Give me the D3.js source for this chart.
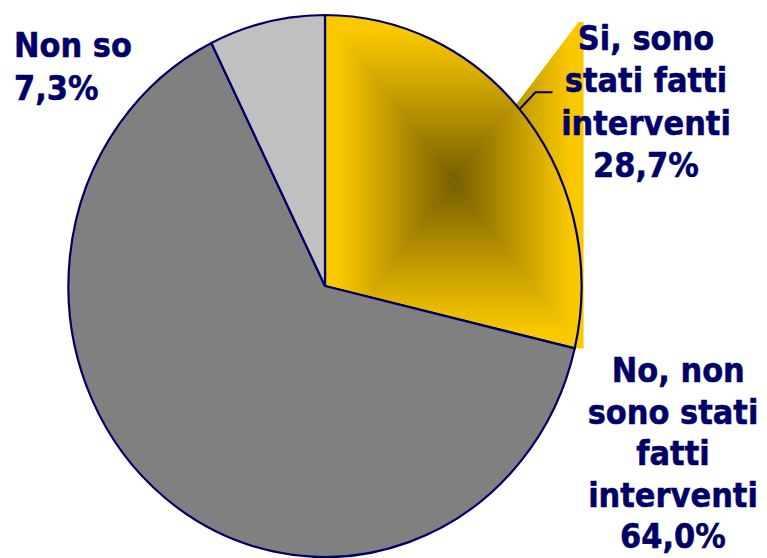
<!DOCTYPE html>
<html><head><meta charset="utf-8">
<script src="https://cdn.jsdelivr.net/npm/d3@7"></script>
<style>
html,body{margin:0;padding:0;background:#fff;}
svg{display:block;}
</style></head>
<body>
<script>
// ---- data ----
const categories = ["Si, sono stati fatti interventi", "No, non sono stati fatti interventi", "Non so"];
const values = [28.7, 64.0, 7.3];
const labelLines = [
  ["Si, sono", "stati fatti", "interventi", "28,7%"],
  [" No, non", "sono stati", "fatti", "interventi", "64,0%"],
  ["Non so", "7,3%"]
];
const colors = ["#f9c800", "#808080", "#c0c0c0"];

const W = 767, H = 558;
const cx = 325, cy = 286, rx = 256.6, ry = 271;
const ink = "#000066";

const svg = d3.select("body").append("svg").attr("width", W).attr("height", H);
const defs = svg.append("defs");

const pie = d3.pie().sort(null).startAngle(0).endAngle(2 * Math.PI);
const arcs = pie(values);
const arc = d3.arc().innerRadius(0).outerRadius(rx);
const sy = ry / rx;
const pieTransform = `translate(${cx},${cy}) scale(1,${sy})`;

// point on ellipse for a pie angle
const pt = a => [cx + rx * Math.sin(a), cy - ry * Math.cos(a)];

// --- yellow slice bbox for rectangular "from centre" gradient ---
const ys = arcs[0];
let xs = [cx], yv = [cy];
for (let i = 0; i <= 200; i++) {
  const a = ys.startAngle + (ys.endAngle - ys.startAngle) * i / 200;
  const p = pt(a); xs.push(p[0]); yv.push(p[1]);
}
const x0 = d3.min(xs), x1 = d3.max(xs) + 2, y0 = d3.min(yv), y1 = d3.max(yv);
const gcx = (x0 + x1) / 2, gcy = (y0 + y1) / 2;
const dark = "#765e00", light = colors[0];

// clip: slice plus the fill spill seen at the upper right
const clip = defs.append("clipPath").attr("id", "yclip");
clip.append("path").attr("d", arc(ys)).attr("transform", pieTransform);
const spillTop = pt(ys.startAngle + (ys.endAngle - ys.startAngle) * 0.465);
clip.append("polygon").attr("points", [
  [spillTop[0], spillTop[1]],
  [x1 - 5, y0 + 7],
  [x1, y0 + 7],
  [x1, y1],
  [x0 + (x1 - x0) * 0.97, y1]
].map(p => p.join(",")).join(" "));

function lg(id, ax, ay, bx, by) {
  const g = defs.append("linearGradient").attr("id", id)
    .attr("gradientUnits", "userSpaceOnUse")
    .attr("x1", ax).attr("y1", ay).attr("x2", bx).attr("y2", by);
  g.append("stop").attr("offset", 0).attr("stop-color", dark);
  g.append("stop").attr("offset", 0.5).attr("stop-color", "#c29b00");
  g.append("stop").attr("offset", 0.75).attr("stop-color", "#e6b800");
  g.append("stop").attr("offset", 0.9).attr("stop-color", light);
  g.append("stop").attr("offset", 1).attr("stop-color", light);
}
lg("gT", gcx, gcy, gcx, y0);
lg("gB", gcx, gcy, gcx, y1);
lg("gL", gcx, gcy, x0, gcy);
lg("gR", gcx, gcy, x1, gcy);

const gy = svg.append("g").attr("clip-path", "url(#yclip)");
const tri = (pts, f) => gy.append("polygon")
  .attr("points", pts.map(p => p.join(",")).join(" ")).attr("fill", f)
  .attr("stroke", f).attr("stroke-width", 0.6);
tri([[x0, y0], [x1, y0], [gcx, gcy]], "url(#gT)");
tri([[x0, y1], [x1, y1], [gcx, gcy]], "url(#gB)");
tri([[x0, y0], [x0, y1], [gcx, gcy]], "url(#gL)");
tri([[x1, y0], [x1, y1], [gcx, gcy]], "url(#gR)");

// --- pie slices ---
const g = svg.append("g").attr("transform", pieTransform);
g.selectAll("path.slice").data(arcs).join("path")
  .attr("class", "slice")
  .attr("d", arc)
  .attr("fill", (d, i) => i === 0 ? "none" : colors[i])
  .attr("stroke", ink)
  .attr("stroke-width", 2.2)
  .attr("stroke-linejoin", "round")
  .attr("vector-effect", "non-scaling-stroke");

// --- leader line for first label ---
const lp = pt(ys.startAngle + (ys.endAngle - ys.startAngle) * 0.477);
svg.append("polyline")
  .attr("points", [[lp[0], lp[1]], [lp[0] + 16, lp[1] - 17], [lp[0] + 33, lp[1] - 17]].map(p => p.join(",")).join(" "))
  .attr("fill", "none").attr("stroke", ink).attr("stroke-width", 2);

// --- labels ---
const labelPos = [
  { x: 646, y: 50, anchor: "middle", step: 42.3 },
  { x: 673, y: 382, anchor: "middle", step: 41.6 },
  { x: 14, y: 57, anchor: "start", step: 43 }
];
labelLines.forEach((lines, k) => {
  const p = labelPos[k];
  lines.forEach((t, j) => {
    svg.append("text")
      .attr("transform", `translate(${p.x},${p.y + j * p.step}) scale(1,1.1)`)
      .attr("text-anchor", p.anchor)
      .attr("font-family", "DejaVu Sans, Verdana, sans-serif")
      .attr("font-weight", "bold")
      .attr("font-size", 30.5)
      .attr("fill", ink)
      .attr("stroke", ink)
      .attr("stroke-width", 0.5)
      .style("white-space", "pre")
      .text(t);
  });
});
</script>
</body></html>
